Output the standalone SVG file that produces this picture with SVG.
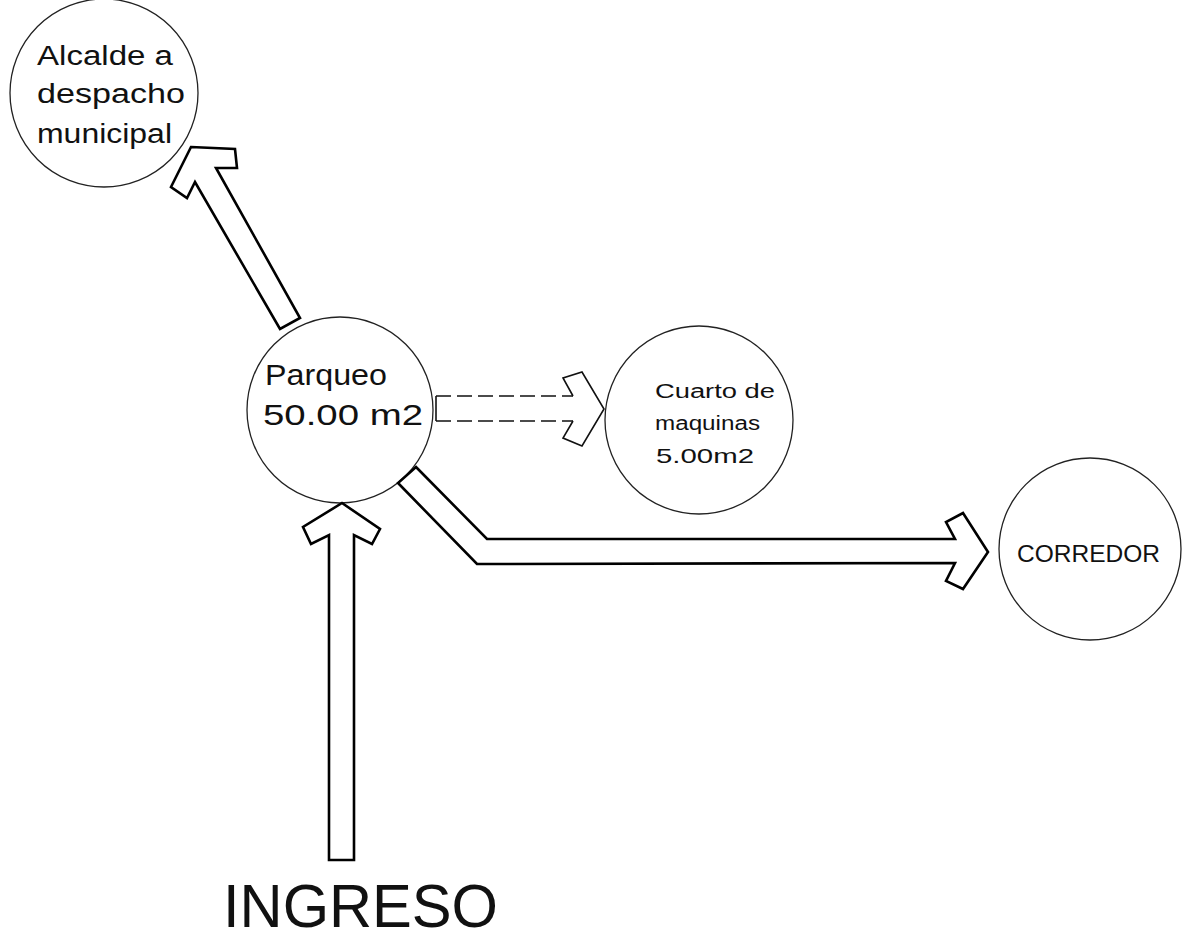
<svg xmlns="http://www.w3.org/2000/svg" width="1192" height="940" viewBox="0 0 1192 940">
<style>
.node{fill:#fff;stroke:#222;stroke-width:1.3}
.arrow{fill:#fff;stroke:#000;stroke-width:2.6;stroke-linejoin:miter}
.thin{fill:none;stroke:#111;stroke-width:1.6}
.dash{fill:none;stroke:#111;stroke-width:1.6;stroke-dasharray:15 6}
.t{font-family:"Liberation Sans",Arial,sans-serif;fill:#111}
</style>
<rect width="1192" height="940" fill="#fff"/>
<g id="alcalde">
<circle class="node" cx="104" cy="93" r="94"/>
<text class="t" font-size="27" x="37" y="65" textLength="136" lengthAdjust="spacingAndGlyphs">Alcalde a</text>
<text class="t" font-size="27" x="37" y="103" textLength="148" lengthAdjust="spacingAndGlyphs">despacho</text>
<text class="t" font-size="27" x="37" y="143" textLength="135" lengthAdjust="spacingAndGlyphs">municipal</text>
</g>
<g id="parqueo">
<circle class="node" cx="340" cy="410" r="93"/>
<text class="t" font-size="29" x="265" y="385" textLength="122" lengthAdjust="spacingAndGlyphs">Parqueo</text>
<text class="t" font-size="30" x="263" y="425" textLength="160" lengthAdjust="spacingAndGlyphs">50.00 m2</text>
</g>
<g id="cuarto">
<circle class="node" cx="699" cy="420" r="94"/>
<text class="t" font-size="20" x="655" y="398" textLength="120" lengthAdjust="spacingAndGlyphs" fill="#333">Cuarto de</text>
<text class="t" font-size="20" x="655" y="430" textLength="105" lengthAdjust="spacingAndGlyphs" fill="#333">maquinas</text>
<text class="t" font-size="21" x="656" y="463" textLength="98" lengthAdjust="spacingAndGlyphs" fill="#333">5.00m2</text>
</g>
<g id="corredor">
<circle class="node" cx="1090" cy="549" r="91"/>
<text class="t" font-size="23" x="1017" y="562" textLength="143" lengthAdjust="spacingAndGlyphs" fill="#333">CORREDOR</text>
</g>
<g id="ingreso">
<text class="t" font-size="62" x="223" y="927" textLength="275" lengthAdjust="spacingAndGlyphs">INGRESO</text>
</g>
<g id="connectors">
<polygon class="arrow" points="342,503 380,529 372,544 354,535 354,860 329,860 329,535 311,544 303,527"/>
<polygon class="arrow" points="191,147 235,149 237,168 216,168 300,318 280,329 195,182 187,198 171,187"/>
<polygon class="arrow" points="416,467 487,539 955,539 946,522 963,513 988,552 963,589 946,581 955,563 477,564 398,483"/>
<line class="dash" x1="436" y1="396" x2="573" y2="396"/>
<line class="dash" x1="436" y1="421" x2="573" y2="421"/>
<line class="thin" x1="436" y1="396" x2="436" y2="421"/>
<polyline class="thin" points="573,396 563,378 582,372 604,409 582,446 563,438 573,421"/>
</g>
</svg>
